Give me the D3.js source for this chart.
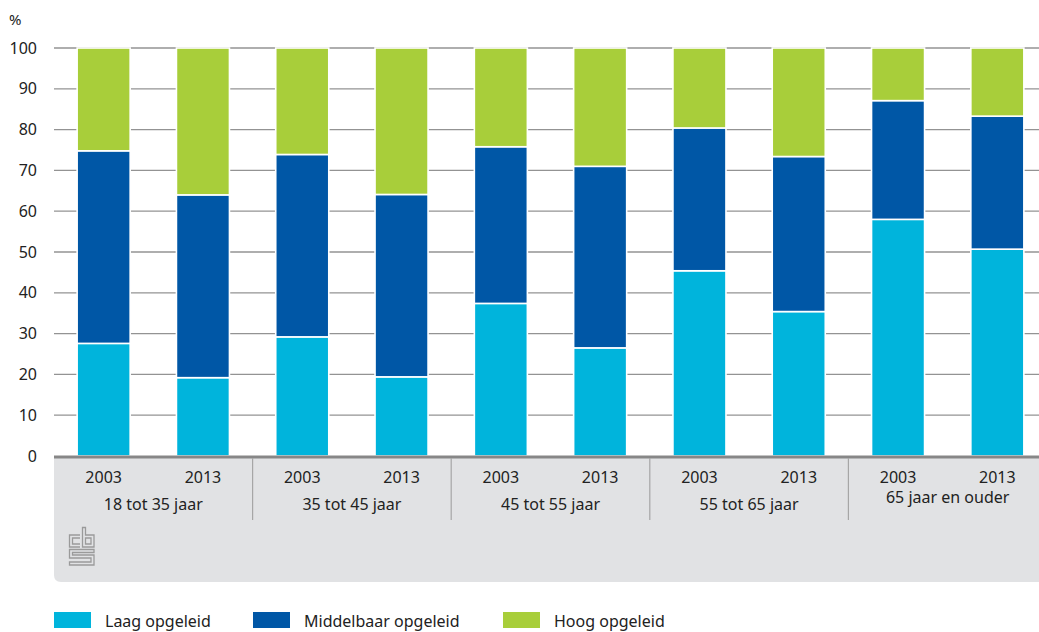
<!DOCTYPE html>
<html>
<head>
<meta charset="utf-8">
<script src="https://cdn.jsdelivr.net/npm/d3@7/dist/d3.min.js"></script>
<style>
  html, body { margin: 0; padding: 0; background: #fff; }
  svg { display: block; font-family: "Noto Sans", "Open Sans", sans-serif; }
</style>
</head>
<body>
<div id="chart"></div>
<script>
// ---- data ----
const groups = ["18 tot 35 jaar", "35 tot 45 jaar", "45 tot 55 jaar", "55 tot 65 jaar", "65 jaar en ouder"];
const years = ["2003", "2013"];
const laag       = [27.6, 19.2, 29.2, 19.4, 37.4, 26.5, 45.4, 35.4, 58.0, 50.7];
const middelbaar = [47.2, 44.8, 44.7, 44.7, 38.4, 44.5, 35.0, 38.0, 29.1, 32.6];
const hoog       = [25.2, 36.0, 26.1, 35.9, 24.2, 29.0, 19.6, 26.6, 12.9, 16.7];
const seriesNames = ["Laag opgeleid", "Middelbaar opgeleid", "Hoog opgeleid"];
const yTicks = [0, 10, 20, 30, 40, 50, 60, 70, 80, 90, 100];

// ---- setup ----
const W = 1039, H = 632;
const margin = { left: 54, top: 48, bottom: 456 };
const colors = ["#00b4dc", "#0057a6", "#a8ce3a"];

const rows = [];
groups.forEach((g, gi) => years.forEach((yr, yi) => {
  const i = gi * years.length + yi;
  rows.push({ key: g + "|" + yr, group: g, year: yr, laag: laag[i], middelbaar: middelbaar[i], hoog: hoog[i] });
}));

const svg = d3.select("#chart").append("svg").attr("width", W).attr("height", H);

const x = d3.scaleBand().domain(rows.map(d => d.key))
  .range([margin.left, margin.left + 993]).paddingInner(0.466).paddingOuter(0.233);
const y = d3.scaleLinear().domain([0, 100]).range([margin.bottom, margin.top]);

// grey category box
const boxTop = y(0) + 1, boxBottom = 582, boxLeft = margin.left, r = 7;
svg.append("path")
  .attr("d", `M${boxLeft},${boxTop} L${W},${boxTop} L${W},${boxBottom} L${boxLeft + r},${boxBottom} Q${boxLeft},${boxBottom} ${boxLeft},${boxBottom - r} Z`)
  .attr("fill", "#e1e2e4");

// gridlines
svg.append("g").selectAll("line").data(yTicks.filter(t => t > 0)).join("line")
  .attr("x1", margin.left).attr("x2", W)
  .attr("y1", d => y(d)).attr("y2", d => y(d))
  .attr("stroke", "#939393").attr("stroke-width", 1.3);

// y axis labels
const yAxis = d3.axisLeft(y).tickValues(yTicks).tickSize(0).tickPadding(0);
const ya = svg.append("g").attr("transform", "translate(37,0)").call(yAxis);
ya.select(".domain").remove();
ya.selectAll("text").attr("font-size", 16).attr("fill", "#222").attr("font-family", "\"Noto Sans\", sans-serif");

svg.append("text").attr("x", 9).attr("y", 25).text("%")
  .attr("font-size", 15).attr("fill", "#222");

// stacked bars
const stack = d3.stack().keys(["laag", "middelbaar", "hoog"]);
const stacked = stack(rows);
svg.append("g").selectAll("g").data(stacked).join("g")
  .attr("fill", (d, i) => colors[i])
  .selectAll("rect").data(d => d).join("rect")
  .attr("x", d => x(d.data.key))
  .attr("width", x.bandwidth())
  .attr("y", d => y(d[1]))
  .attr("height", d => y(d[0]) - y(d[1]))
  .attr("stroke", "#fff").attr("stroke-width", 1.6);

// baseline
svg.append("line").attr("x1", margin.left).attr("x2", W)
  .attr("y1", y(0) + 1).attr("y2", y(0) + 1)
  .attr("stroke", "#878787").attr("stroke-width", 3);

// year labels
svg.append("g").selectAll("text").data(rows).join("text")
  .attr("x", d => x(d.key) + x.bandwidth() / 2)
  .attr("y", 483)
  .attr("text-anchor", "middle")
  .attr("font-size", 16).attr("fill", "#222")
  .text(d => d.year);

// group labels
const groupCenter = g => {
  const ks = rows.filter(d => d.group === g).map(d => x(d.key) + x.bandwidth() / 2);
  return d3.mean(ks);
};
svg.append("g").selectAll("text").data(groups).join("text")
  .attr("x", d => groupCenter(d))
  .attr("y", (d, i) => i === groups.length - 1 ? 503 : 510)
  .attr("text-anchor", "middle")
  .attr("font-size", 16).attr("fill", "#222")
  .text(d => d);

// group separators
const seps = groups.slice(1).map(g => {
  const first = rows.find(d => d.group === g);
  return x(first.key) - x.step() * x.paddingInner() / 2;
});
svg.append("g").selectAll("line").data(seps).join("line")
  .attr("x1", d => d).attr("x2", d => d)
  .attr("y1", y(0) + 2).attr("y2", 520)
  .attr("stroke", "#a6a6a6").attr("stroke-width", 1.2);

// CBS logo
const logo = svg.append("g").attr("transform", "translate(69,527)")
  .attr("fill", "none").attr("stroke", "#9a9a9a").attr("stroke-width", 1.3);
// c
logo.append("path").attr("d", "M11,8 H0.5 V20 H11 M11,11 H3.5 V17 H11");
// b
logo.append("path").attr("d", "M13.5,0.5 V20 H25 V8 H16.5 V0.5 Z M16.5,11 V17 H22 V11 Z");
// S
logo.append("path").attr("d", "M25,22.5 H0.5 V31 H22 V35 H0.5 V38 H25 V28 H3.5 V25.5 H25 Z");

// legend
const legX = [54, 253, 503];
const leg = svg.append("g").selectAll("g").data(seriesNames).join("g")
  .attr("transform", (d, i) => `translate(${legX[i]},612)`);
leg.append("rect").attr("width", 37).attr("height", 16).attr("fill", (d, i) => colors[i]);
leg.append("text").attr("x", 51).attr("y", 15).attr("font-size", 16).attr("fill", "#222").text(d => d);
</script>
</body>
</html>
